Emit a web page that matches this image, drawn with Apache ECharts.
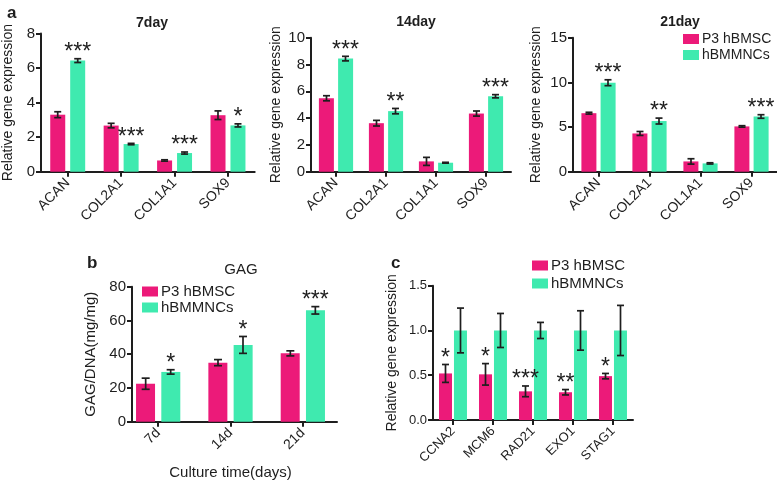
<!DOCTYPE html>
<html><head><meta charset="utf-8">
<script src="https://cdn.jsdelivr.net/npm/echarts@6/dist/echarts.min.js"></script>
<style>html,body{margin:0;padding:0;background:#fff}#c{width:777px;height:482px}</style>
</head><body><div id="c"></div>
<script>
// ---------- data ----------
const genesA = ['ACAN', 'COL2A1', 'COL1A1', 'SOX9'];
const seriesNames = ['P3 hBMSC', 'hBMMNCs'];

const d7P3 = [3.30, 2.67, 0.65, 3.27];
const d7P3Err = [0.17, 0.13, 0.04, 0.25];
const d7MN = [6.43, 1.60, 1.08, 2.68];
const d7MNErr = [0.11, 0.04, 0.06, 0.09];
const d7Sig = ['***', '***', '***', '*'];

const d14P3 = [5.48, 3.62, 0.77, 4.34];
const d14P3Err = [0.19, 0.21, 0.30, 0.19];
const d14MN = [8.44, 4.52, 0.67, 5.63];
const d14MNErr = [0.17, 0.20, 0.03, 0.12];
const d14Sig = ['***', '**', '', '***'];

const d21P3 = [6.55, 4.28, 1.15, 5.07];
const d21P3Err = [0.10, 0.22, 0.30, 0.08];
const d21MN = [9.96, 5.67, 0.93, 6.18];
const d21MNErr = [0.33, 0.33, 0.07, 0.20];
const d21Sig = ['***', '**', '', '***'];

const days = ['7d', '14d', '21d'];
const gagP3 = [22.5, 35.0, 40.5];
const gagP3Err = [3.3, 1.8, 1.5];
const gagMN = [29.5, 45.5, 66.0];
const gagMNErr = [1.3, 5.0, 2.2];
const gagSig = ['*', '*', '***'];

const genesC = ['CCNA2', 'MCM6', 'RAD21', 'EXO1', 'STAG1'];
const cP3 = [0.52, 0.51, 0.32, 0.31, 0.49];
const cP3Err = [0.10, 0.12, 0.06, 0.03, 0.03];
const cMN = [1.0, 1.0, 1.0, 1.0, 1.0];
const cMNErr = [0.25, 0.19, 0.09, 0.22, 0.28];
const cSig = ['*', '*', '***', '**', '*'];

// ---------- styles ----------
const FONT = 'Liberation Sans, Arial, Helvetica, sans-serif';
const PINK = '#EC1A79';
const GREEN = '#3FEAAF';
const INK = '#1e1e1e';

function barSeries(name, data, color, xi, yi, bw, gap) {
  return { type: 'bar', name: name, data: data, xAxisIndex: xi, yAxisIndex: yi,
    barWidth: bw, barGap: gap, itemStyle: { color: color }, silent: true, z: 2 };
}
function errSeries(vals, errs, sig, xi, yi, offset, cap) {
  return {
    type: 'custom', name: 'err', xAxisIndex: xi, yAxisIndex: yi, z: 5, silent: true,
    data: vals.map((v, i) => [i, v - errs[i], v + errs[i]]),
    renderItem: function (params, api) {
      const i = api.value(0);
      const lo = api.coord([i, api.value(1)]);
      const hi = api.coord([i, api.value(2)]);
      const x = lo[0] + offset;
      const ls = { stroke: INK, lineWidth: 1.7 };
      const children = [
        { type: 'line', shape: { x1: x, y1: lo[1], x2: x, y2: hi[1] }, style: ls },
        { type: 'line', shape: { x1: x - cap, y1: lo[1], x2: x + cap, y2: lo[1] }, style: ls },
        { type: 'line', shape: { x1: x - cap, y1: hi[1], x2: x + cap, y2: hi[1] }, style: ls }
      ];
      const s = sig ? sig[params.dataIndex] : '';
      if (s) {
        children.push({ type: 'text', style: { text: s, x: x, y: hi[1] - 6, align: 'center',
          verticalAlign: 'middle', fontSize: 23, fontFamily: FONT, fill: INK } });
      }
      return { type: 'group', children: children };
    }
  };
}

function catAxis(gi, data, fs, showLine, name) {
  const ax = {
    type: 'category', gridIndex: gi, data: data, boundaryGap: true,
    axisLine: { show: showLine, lineStyle: { color: INK, width: 2 } },
    axisTick: { show: true, alignWithLabel: true, length: 5, lineStyle: { color: INK, width: 2 } },
    axisLabel: { rotate: 45, fontSize: fs, fontFamily: FONT, color: INK, margin: 9 },
    splitLine: { show: false }
  };
  if (name) {
    ax.name = name; ax.nameLocation = 'middle'; ax.nameGap = 44;
    ax.nameTextStyle = { fontSize: 15, fontFamily: FONT, color: INK };
  }
  return ax;
}
function valAxis(gi, max, interval, fs, name, gap, nfs, fmt, show) {
  return {
    type: 'value', gridIndex: gi, min: 0, max: max, interval: interval, show: show !== false,
    axisLine: { show: true, lineStyle: { color: INK, width: 2 } },
    axisTick: { show: true, length: 5, lineStyle: { color: INK, width: 2 } },
    axisLabel: { fontSize: fs, fontFamily: FONT, color: INK, margin: 6,
      formatter: fmt || null },
    splitLine: { show: false },
    name: name, nameLocation: 'middle', nameGap: gap, nameRotate: 90,
    nameTextStyle: { fontSize: nfs, fontFamily: FONT, color: INK }
  };
}

const legendBase = (left, top, fs, gap) => ({
  data: seriesNames, orient: 'vertical', left: left, top: top, padding: 0,
  itemWidth: 16, itemHeight: 10, itemGap: gap, icon: 'rect', selectedMode: false,
  textStyle: { fontSize: fs, fontFamily: FONT, color: INK, padding: [0, 0, 0, -2] }
});

const option = {
  animation: false,
  backgroundColor: '#fff',
  title: [
    { text: 'a', left: 2, top: 0, textStyle: { fontSize: 17, fontWeight: 'bold', fontFamily: FONT, color: INK } },
    { text: '7day', left: 147, top: 11, textAlign: 'center', textStyle: { fontSize: 14, fontWeight: 'bold', fontFamily: FONT, color: INK } },
    { text: '14day', left: 411, top: 10, textAlign: 'center', textStyle: { fontSize: 14, fontWeight: 'bold', fontFamily: FONT, color: INK } },
    { text: '21day', left: 675, top: 10, textAlign: 'center', textStyle: { fontSize: 14, fontWeight: 'bold', fontFamily: FONT, color: INK } },
    { text: 'b', left: 82, top: 250, textStyle: { fontSize: 17, fontWeight: 'bold', fontFamily: FONT, color: INK } },
    { text: 'GAG', left: 236, top: 257, textAlign: 'center', textStyle: { fontSize: 15, fontWeight: 'normal', fontFamily: FONT, color: INK } },
    { text: 'c', left: 386, top: 250, textStyle: { fontSize: 17, fontWeight: 'bold', fontFamily: FONT, color: INK } }
  ],
  legend: [
    legendBase(683, 32, 14, 2),
    legendBase(142, 284, 15, 1),
    legendBase(532, 258, 15, 3)
  ],
  grid: [
    { left: 40.7, top: 33.5, width: 214, height: 138.2 },
    { left: 311, top: 37.7, width: 200, height: 134 },
    { left: 573, top: 37.7, width: 204, height: 134 },
    { left: 122, top: 286.7, width: 217, height: 135 },
    { left: 132, top: 286.7, width: 205, height: 135 },
    { left: 433, top: 285.7, width: 200, height: 134.3 }
  ],
  xAxis: [
    catAxis(0, genesA, 14, true),
    catAxis(1, genesA, 14, true),
    catAxis(2, genesA, 14, true),
    catAxis(3, days, 14, false, 'Culture time(days)'),
    { type: 'value', gridIndex: 4, min: 0, max: 1, axisLine: { show: true, lineStyle: { color: INK, width: 2 } },
      axisTick: { show: false }, axisLabel: { show: false }, splitLine: { show: false } },
    catAxis(5, genesC, 13, true)
  ],
  yAxis: [
    valAxis(0, 8, 2, 15, 'Relative gene expression', 26, 14),
    valAxis(1, 10, 2, 15, 'Relative gene expression', 28, 14),
    valAxis(2, 15, 5, 15, 'Relative gene expression', 30, 14),
    valAxis(3, 80, 20, 14, '', 10, 14, null, false),
    valAxis(4, 80, 20, 15, 'GAG/DNA(mg/mg)', 34, 15),
    valAxis(5, 1.5, 0.5, 13, 'Relative gene expression', 34, 14, v => v.toFixed(1))
  ],
  series: [
    barSeries(seriesNames[0], d7P3, PINK, 0, 0, 15, '33%'),
    barSeries(seriesNames[1], d7MN, GREEN, 0, 0, 15, '33%'),
    errSeries(d7P3, d7P3Err, null, 0, 0, -10, 3.5),
    errSeries(d7MN, d7MNErr, d7Sig, 0, 0, 10, 3.5),

    barSeries(seriesNames[0], d14P3, PINK, 1, 1, 15, '28%'),
    barSeries(seriesNames[1], d14MN, GREEN, 1, 1, 15, '28%'),
    errSeries(d14P3, d14P3Err, null, 1, 1, -9.5, 3.5),
    errSeries(d14MN, d14MNErr, d14Sig, 1, 1, 9.5, 3.5),

    barSeries(seriesNames[0], d21P3, PINK, 2, 2, 15, '28%'),
    barSeries(seriesNames[1], d21MN, GREEN, 2, 2, 15, '28%'),
    errSeries(d21P3, d21P3Err, null, 2, 2, -9.5, 3.5),
    errSeries(d21MN, d21MNErr, d21Sig, 2, 2, 9.5, 3.5),

    barSeries(seriesNames[0], gagP3, PINK, 3, 3, 19, '33%'),
    barSeries(seriesNames[1], gagMN, GREEN, 3, 3, 19, '33%'),
    errSeries(gagP3, gagP3Err, null, 3, 3, -12.5, 4),
    errSeries(gagMN, gagMNErr, gagSig, 3, 3, 12.5, 4),

    barSeries(seriesNames[0], cP3, PINK, 5, 5, 13, '15%'),
    barSeries(seriesNames[1], cMN, GREEN, 5, 5, 13, '15%'),
    errSeries(cP3, cP3Err, cSig, 5, 5, -7.5, 3.5),
    errSeries(cMN, cMNErr, null, 5, 5, 7.5, 3.5)
  ]
};

const chart = echarts.init(document.getElementById('c'), null, { renderer: 'canvas' });
chart.setOption(option);
</script>
</body></html>
